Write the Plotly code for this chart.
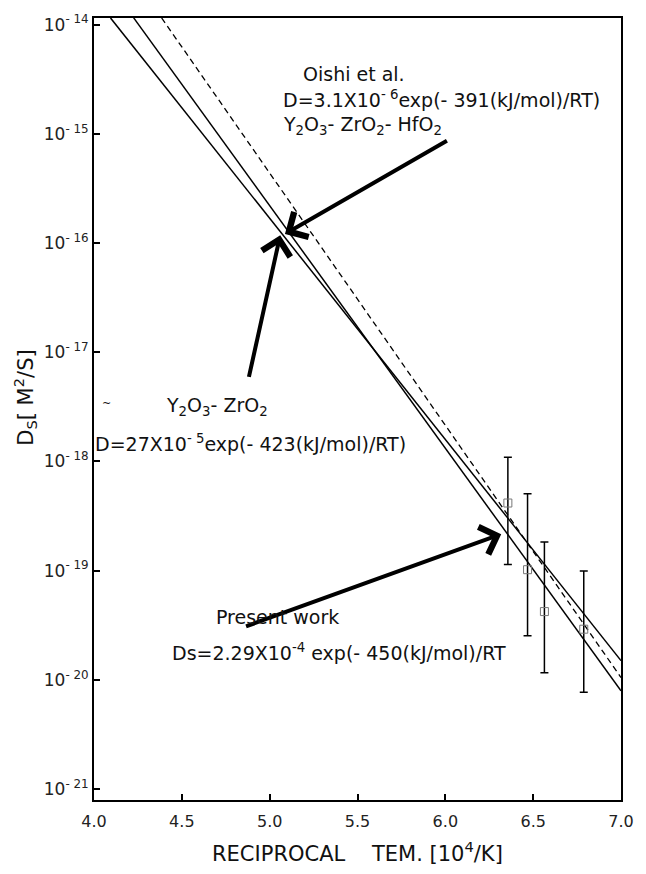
import plotly.graph_objects as go

# ---- data ----
ysz_x = [4.094, 7.0]
ysz_D = [1.15e-14, 1.50e-20]

present_x = [4.226, 7.0]
present_D = [1.15e-14, 7.94e-21]

oishi_x = [4.385, 7.0]
oishi_D = [1.15e-14, 1.05e-20]

pts_x = [6.356, 6.468, 6.564, 6.788]
pts_D = [4.16e-19, 1.02e-19, 4.22e-20, 2.91e-20]
pts_upper = [1.09e-18, 5.07e-19, 1.83e-19, 9.91e-20]
pts_lower = [1.14e-19, 2.53e-20, 1.16e-20, 7.69e-21]

x_ticks = [4.0, 4.5, 5.0, 5.5, 6.0, 6.5, 7.0]
y_exps = [-14, -15, -16, -17, -18, -19, -20, -21]

FONT = "DejaVu Sans, Noto Sans, sans-serif"

fig = go.Figure()
fig.add_trace(go.Scatter(x=ysz_x, y=ysz_D, mode="lines",
                         line=dict(color="black", width=1.5), showlegend=False))
fig.add_trace(go.Scatter(x=present_x, y=present_D, mode="lines",
                         line=dict(color="black", width=1.5), showlegend=False))
fig.add_trace(go.Scatter(x=oishi_x, y=oishi_D, mode="lines",
                         line=dict(color="black", width=1.3, dash="6px,4px"), showlegend=False))

err_plus = [u - v for u, v in zip(pts_upper, pts_D)]
err_minus = [v - l for v, l in zip(pts_D, pts_lower)]
fig.add_trace(go.Scatter(
    x=pts_x, y=pts_D, mode="markers",
    marker=dict(symbol="square-open", size=8, color="#777777", line=dict(width=1)),
    error_y=dict(type="data", symmetric=False, array=err_plus, arrayminus=err_minus,
                 color="black", thickness=1.5, width=4),
    showlegend=False))

annotations = []
# arrows
for tip, tail in [((5.087, -15.917), (6.0175, -15.056)),
                  ((5.060, -15.929), (4.880, -17.240)),
                  ((6.318, -18.666), (4.857, -19.515))]:
    annotations.append(dict(x=tip[0], y=tip[1], ax=tail[0], ay=tail[1],
                            xref="x", yref="y", axref="x", ayref="y",
                            showarrow=True, arrowhead=4, arrowsize=1.4,
                            arrowwidth=4, arrowcolor="black", text=""))

def txt(x, y, s, anchor="left", size=19, xref="x"):
    annotations.append(dict(x=x, y=y, xref=xref, yref="y", text=s, showarrow=False,
                            xanchor=anchor, yanchor="middle",
                            font=dict(family=FONT, size=size, color="#111")))

txt(5.179, -14.451, "Oishi et al.")
txt(5.066, -14.679, "D=3.1X10<sup>- 6</sup>exp(- 391(kJ/mol)/RT)")
txt(5.066, -14.925, "Y<sub>2</sub>O<sub>3</sub>- ZrO<sub>2</sub>- HfO<sub>2</sub>")
txt(4.400, -17.498, "Y<sub>2</sub>O<sub>3</sub>- ZrO<sub>2</sub>")
txt(-0.002, -17.827, "D=27X10<sup>- 5</sup>exp(- 423(kJ/mol)/RT)", xref="paper")
txt(4.682, -19.424, "Present work")
txt(6.358, -19.743, "Ds=2.29X10<sup>-4</sup> exp(- 450(kJ/mol)/RT", anchor="right")
txt(4.034, -17.471, "~", size=11)

# axis titles
annotations.append(dict(x=0.5, y=-0.067, xref="paper", yref="paper", showarrow=False,
                        text="RECIPROCAL\u00a0\u00a0\u00a0 TEM. [10<sup>4</sup>/K]",
                        xanchor="center", yanchor="middle",
                        font=dict(family=FONT, size=21, color="#111")))
annotations.append(dict(x=-0.13, y=0.515, xref="paper", yref="paper", showarrow=False,
                        text="D<sub>S</sub>[ M<sup>2</sup>/S]", textangle=-90,
                        xanchor="center", yanchor="middle",
                        font=dict(family=FONT, size=21, color="#111")))

fig.update_layout(
    width=646, height=874,
    margin=dict(l=94, r=20, t=15, b=74),
    paper_bgcolor="white", plot_bgcolor="white",
    annotations=annotations,
    font=dict(family=FONT, color="#111"),
)
fig.update_xaxes(range=[4.0, 7.0], tickvals=x_ticks,
                 ticktext=[f"{v:.1f}" for v in x_ticks],
                 ticks="inside", ticklen=6, tickwidth=1.5, tickcolor="black",
                 showline=True, linecolor="black", linewidth=2, mirror=True,
                 showgrid=False, zeroline=False, ticklabelstandoff=6,
                 tickfont=dict(family=FONT, size=16, color="#222"))
fig.update_yaxes(type="log", range=[-21.10, -13.94],
                 tickvals=[10.0 ** e for e in y_exps],
                 ticktext=[f"10<sup>- {-e}</sup>" for e in y_exps],
                 ticks="inside", ticklen=6, tickwidth=1.5, tickcolor="black",
                 showline=True, linecolor="black", linewidth=2, mirror=True,
                 showgrid=False, zeroline=False,
                 tickfont=dict(family=FONT, size=17, color="#222"))

fig.write_html("out.html", config={"displayModeBar": False},
               post_script="document.body.style.margin='0';document.body.style.overflow='hidden';")
